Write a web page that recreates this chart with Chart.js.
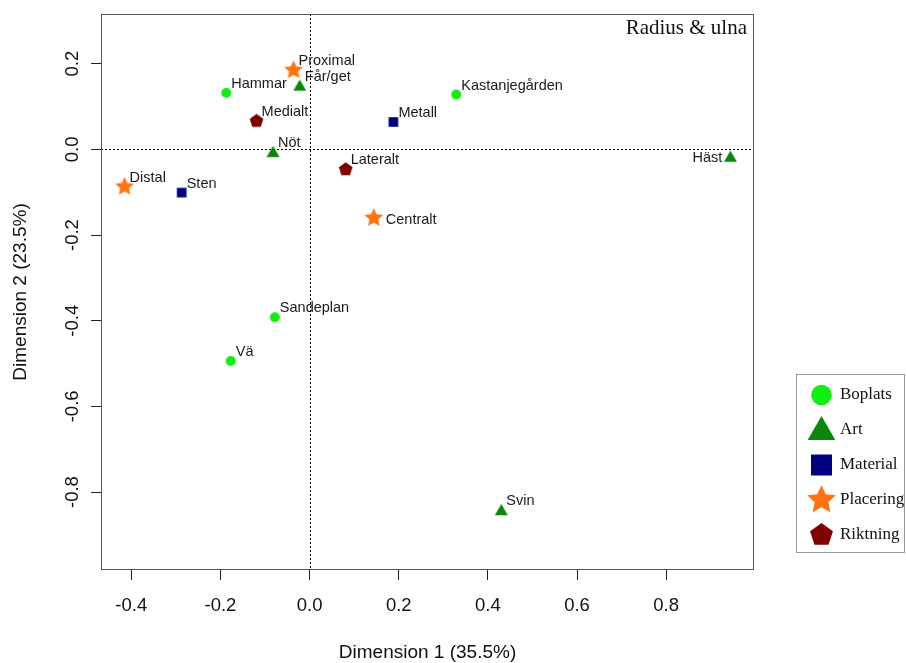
<!DOCTYPE html>
<html>
<head>
<meta charset="utf-8">
<script src="https://cdn.jsdelivr.net/npm/chart.js@4.4.1/dist/chart.umd.min.js"></script>
<style>
html,body{margin:0;padding:0;background:#fff;}
</style>
</head>
<body>
<canvas id="chart" width="906" height="663"></canvas>
<script>
// group names and point labels
const groups=['Boplats','Art','Material','Placering','Riktning'];
const boplatsNames=['Hammar','Kastanjegården','Sandeplan','Vä'];
const boplatsX=[-0.187,0.329,-0.078,-0.177];
const boplatsY=[0.132,0.128,-0.392,-0.494];
const artNames=['Får/get','Nöt','Häst','Svin'];
const artX=[-0.022,-0.082,0.944,0.430];
const artY=[0.148,-0.007,-0.018,-0.843];
const materialNames=['Metall','Sten'];
const materialX=[0.188,-0.287];
const materialY=[0.064,-0.101];
const placeringNames=['Proximal','Distal','Centralt'];
const placeringX=[-0.036,-0.415,0.144];
const placeringY=[0.185,-0.087,-0.160];
const riktningNames=['Medialt','Lateralt'];
const riktningX=[-0.119,0.081];
const riktningY=[0.066,-0.047];
const xTicks=[-0.4,-0.2,0.0,0.2,0.4,0.6,0.8];
const yTicks=[-0.8,-0.6,-0.4,-0.2,0.0,0.2];

const colors=['#11EE11','#0A860A','#000080','#FF7410','#800000'];
const shapes=['circle','triangle','square','star','pentagon'];
const plotSize=[5,7.5,4.8,9.8,7.2];
const legendSize=[10.3,16,10.5,15,12];
// labels that sit beside the point instead of above right
const labelSide={'Häst':'w','Centralt':'e'};

function shapePath(ctx,shape,x,y,r){
    ctx.beginPath();
    if(shape==='circle'){
        ctx.arc(x,y,r,0,Math.PI*2);
    }else if(shape==='square'){
        ctx.rect(x-r,y-r,2*r,2*r);
    }else{
        let n=shape==='triangle'?3:5;
        let pts=shape==='star'?10:n;
        for(let i=0;i<pts;i++){
            let a=-Math.PI/2+i*2*Math.PI/pts;
            let rr=(shape==='star' && i%2)?r*0.48:r;
            let px=x+Math.cos(a)*rr, py=y+Math.sin(a)*rr;
            if(shape==='triangle') py+=r*0.12;
            if(i===0) ctx.moveTo(px,py); else ctx.lineTo(px,py);
        }
    }
    ctx.closePath();
}
function markerCanvas(shape,r,color){
    const c=document.createElement('canvas');
    const s=Math.ceil(2*r+4);
    c.width=s; c.height=s;
    const cx=c.getContext('2d');
    cx.fillStyle=color;
    shapePath(cx,shape,s/2,s/2,r);
    cx.fill();
    return c;
}

const allNames=[boplatsNames,artNames,materialNames,placeringNames,riktningNames];
const allX=[boplatsX,artX,materialX,placeringX,riktningX];
const allY=[boplatsY,artY,materialY,placeringY,riktningY];

const datasets=groups.map((g,i)=>({
    label:g,
    data:allX[i].map((x,j)=>({x:x,y:allY[i][j],name:allNames[i][j]})),
    pointStyle:markerCanvas(shapes[i],plotSize[i],colors[i]),
    pointRadius:5,
    backgroundColor:colors[i],
    borderColor:colors[i]
}));

const decorPlugin={
    id:'decor',
    beforeDatasetsDraw(chart){
        const {ctx,chartArea:a,scales}=chart;
        ctx.save();
        ctx.strokeStyle='#000';
        ctx.lineWidth=1;
        ctx.setLineDash([2,2]);
        const x0=Math.round(scales.x.getPixelForValue(0))+0.5;
        const y0=Math.round(scales.y.getPixelForValue(0))+0.5;
        ctx.beginPath();
        ctx.moveTo(x0,a.top); ctx.lineTo(x0,a.bottom);
        ctx.moveTo(a.left,y0); ctx.lineTo(a.right,y0);
        ctx.stroke();
        ctx.setLineDash([]);
        ctx.strokeStyle='#555';
        ctx.strokeRect(a.left+0.5,a.top+0.5,a.right-a.left-1,a.bottom-a.top-1);
        ctx.restore();
    },
    afterDatasetsDraw(chart){
        const {ctx,chartArea:a}=chart;
        ctx.save();
        ctx.font='14.5px "Liberation Sans", Arial, sans-serif';
        ctx.fillStyle='#1a1a1a';
        chart.data.datasets.forEach((ds,i)=>{
            chart.getDatasetMeta(i).data.forEach((el,j)=>{
                const name=ds.data[j].name;
                const side=labelSide[name];
                if(side==='w'){
                    ctx.textAlign='right'; ctx.textBaseline='middle';
                    ctx.fillText(name,el.x-8,el.y+1);
                }else if(side==='e'){
                    ctx.textAlign='left'; ctx.textBaseline='middle';
                    ctx.fillText(name,el.x+12,el.y+2);
                }else{
                    ctx.textAlign='left'; ctx.textBaseline='alphabetic';
                    ctx.fillText(name,el.x+5,el.y-5);
                }
            });
        });
        // title in the corner
        ctx.font='21px "Liberation Serif", "Times New Roman", serif';
        ctx.fillStyle='#111';
        ctx.textAlign='right'; ctx.textBaseline='middle';
        ctx.fillText('Radius & ulna',a.right-7,28);
        ctx.restore();
    },
    afterDraw(chart){
        const ctx=chart.ctx;
        ctx.save();
        ctx.strokeStyle='#999';
        ctx.lineWidth=1;
        ctx.strokeRect(796.5,374.5,108,178);
        ctx.font='17px "Liberation Serif", "Times New Roman", serif';
        ctx.textAlign='left'; ctx.textBaseline='middle';
        groups.forEach((g,i)=>{
            const y=395+i*35;
            ctx.fillStyle=colors[i];
            shapePath(ctx,shapes[i],821.5,y,legendSize[i]);
            ctx.fill();
            ctx.fillStyle='#111';
            ctx.fillText(g,840,y);
        });
        ctx.restore();
    }
};

const tickFont={family:'"Liberation Sans", Arial, sans-serif',size:18.5};
const titleFont={family:'"Liberation Sans", Arial, sans-serif',size:19,lineHeight:1};

new Chart(document.getElementById('chart'),{
    type:'scatter',
    data:{datasets:datasets},
    options:{
        responsive:false,
        animation:false,
        events:[],
        layout:{padding:{top:14,right:152,left:0,bottom:0}},
        plugins:{legend:{display:false},tooltip:{enabled:false}},
        scales:{
            x:{
                type:'linear',
                min:-0.468,max:0.997,
                afterFit:s=>{s.height=93;},
                afterBuildTicks:s=>{s.ticks=xTicks.map(v=>({value:v}));},
                border:{display:false},
                grid:{drawOnChartArea:false,tickLength:10,tickColor:'#222',tickWidth:1},
                ticks:{font:tickFont,color:'#111',padding:15,maxRotation:0,autoSkip:false,
                    callback:v=>v.toFixed(1)},
                title:{display:true,text:'Dimension 1 (35.5%)',font:titleFont,color:'#111',padding:{top:0,bottom:0.5}}
            },
            y:{
                type:'linear',
                min:-0.982,max:0.316,
                afterFit:s=>{s.width=101;},
                afterBuildTicks:s=>{s.ticks=yTicks.map(v=>({value:v}));},
                border:{display:false},
                grid:{drawOnChartArea:false,tickLength:10,tickColor:'#222',tickWidth:1},
                ticks:{font:tickFont,color:'#111',padding:2,minRotation:90,maxRotation:90,
                    crossAlign:'center',autoSkip:false,callback:v=>v.toFixed(1)},
                title:{display:true,text:'Dimension 2 (23.5%)',font:titleFont,color:'#111',padding:{top:11.5,bottom:0}}
            }
        }
    },
    plugins:[decorPlugin]
});
</script>
</body>
</html>
